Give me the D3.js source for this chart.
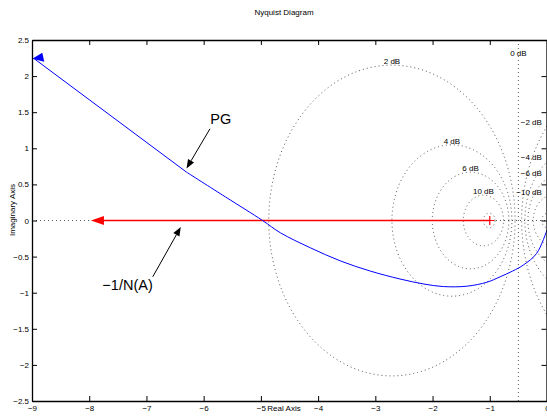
<!DOCTYPE html>
<html lang="en">
<head>
    <meta charset="UTF-8">
    <title>Nyquist Diagram</title>
    <script src="https://cdn.jsdelivr.net/npm/d3@7"></script>
    <style>
        body { margin: 0; background: #fff; }
        svg { display: block; font-family: "Liberation Sans", Arial, Helvetica, sans-serif; }
        .tick text { font-size: 8px; fill: #000; }
        .tick line, .domain { stroke: #000; }
    </style>
</head>
<body>
<svg id="chart" width="547" height="419"></svg>
<script>
    // tick labels
    const xTicks = [-9, -8, -7, -6, -5, -4, -3, -2, -1, 0];
    const yTicks = [-2.5, -2, -1.5, -1, -0.5, 0, 0.5, 1, 1.5, 2, 2.5];

    // Nyquist curve of the plant (PG)
    const nyqRe = [-8.96, -6.30, -5.62, -4.97, -4.66, -4.13, -3.61, -3.09, -2.57, -2.15, -1.81, -1.40, -1.05, -0.82, -0.60, -0.41, -0.18, 0.0];
    const nyqIm = [2.24, 0.67, 0.327, 0.0, -0.17, -0.38, -0.56, -0.70, -0.81, -0.88, -0.915, -0.91, -0.855, -0.78, -0.70, -0.615, -0.455, -0.13];

    // describing function locus -1/N(A), from -1 towards -8
    const descRe = [-1, -7.97];
    const descIm = [0, 0];

    // M-circle grid (dB)
    const gridDb = [-20, -10, -6, -4, -2, 0, 2, 4, 6, 10, 20];
    const labelDb = [0, 2, 4, 6, 10, -2, -4, -6, -10];
    const negLabelIm = [1.36, 0.88, 0.66, 0.40];

    const annotations = [
        { text: "PG", tx: -5.70, ty: 1.40, ax: -5.89, ay: 1.27, bx: -6.30, by: 0.72 },
        { text: "\u22121/N(A)", tx: -7.33, ty: -0.89, ax: -6.89, ay: -0.78, bx: -6.40, by: -0.09 }
    ];

    const svg = d3.select("#chart");
    const x = d3.scaleLinear().domain([-9, 0]).range([32, 547]);
    const y = d3.scaleLinear().domain([-2.5, 2.5]).range([401, 40]);
    const fmt = d => String(d).replace("-", "\u2212");

    svg.append("defs").append("clipPath").attr("id", "plot")
        .append("rect").attr("x", 32).attr("y", 40).attr("width", 515).attr("height", 361);

    // title and axis labels
    svg.append("text").attr("x", 284).attr("y", 15).attr("text-anchor", "middle")
        .attr("font-size", 8).text("Nyquist Diagram");
    svg.append("text").attr("x", 284).attr("y", 411).attr("text-anchor", "middle")
        .attr("font-size", 8).text("Real Axis");
    svg.append("text").attr("transform", "translate(14.5,210) rotate(-90)").attr("text-anchor", "middle")
        .attr("font-size", 8).text("Imaginary Axis");

    const grid = svg.append("g").attr("clip-path", "url(#plot)")
        .attr("fill", "none").attr("stroke", "#555").attr("stroke-width", 1).attr("stroke-dasharray", "1,3");

    // real axis line
    grid.append("line").attr("x1", x(-9)).attr("x2", x(0)).attr("y1", y(0)).attr("y2", y(0));

    const ellipse = d3.line().x(d => x(d[0])).y(d => y(d[1]));
    const angles = d3.range(0, 361, 1).map(a => a * Math.PI / 180);
    gridDb.forEach(db => {
        if (db === 0) {
            grid.append("line").attr("x1", x(-0.5)).attr("x2", x(-0.5)).attr("y1", y(2.5)).attr("y2", y(-2.5));
            return;
        }
        const m = Math.pow(10, db / 20);
        const c = -m * m / (m * m - 1), r = Math.abs(m / (m * m - 1));
        grid.append("path").attr("d", ellipse(angles.map(a => [c + r * Math.cos(a), r * Math.sin(a)])));
    });

    // grid labels
    labelDb.forEach(db => {
        let lx, ly, anchor = "middle";
        if (db === 0) { lx = x(-0.5); ly = y(2.32) + 3; }
        else if (db > 0) {
            const m = Math.pow(10, db / 20);
            lx = x(-m * m / (m * m - 1));
            ly = y(m / (m * m - 1)) - 1;
        } else {
            lx = x(-0.09); anchor = "end";
            ly = y(negLabelIm[[-2, -4, -6, -10].indexOf(db)]) + 3;
        }
        svg.append("text").attr("x", lx).attr("y", ly).attr("text-anchor", anchor)
            .attr("font-size", 8).text(fmt(db) + " dB");
    });

    // -1/N(A) locus
    svg.append("line").attr("x1", x(descRe[0])).attr("y1", y(descIm[0]))
        .attr("x2", x(descRe[1]) + 12).attr("y2", y(descIm[1]))
        .attr("stroke", "#f00").attr("stroke-width", 1.5);
    const tipX = x(descRe[1]), tipY = y(descIm[1]);
    svg.append("path").attr("fill", "#f00")
        .attr("d", `M${tipX},${tipY}L${tipX + 13},${tipY - 4.5}L${tipX + 13},${tipY + 4.5}Z`);
    svg.append("path").attr("stroke", "#f00").attr("stroke-width", 1.2)
        .attr("d", `M${x(-1) - 4.5},${y(0)}H${x(-1) + 4.5}M${x(-1)},${y(0) - 4.5}V${y(0) + 4.5}`);

    // Nyquist curve
    const pts = nyqRe.map((v, i) => [v, nyqIm[i]]);
    const g1 = svg.append("g").attr("clip-path", "url(#plot)");
    g1.append("path").attr("fill", "none").attr("stroke", "#00f").attr("stroke-width", 1)
        .attr("d", d3.line().x(d => x(d[0])).y(d => y(d[1]))(pts.slice(0, 2)));
    g1.append("path").attr("fill", "none").attr("stroke", "#00f").attr("stroke-width", 1)
        .attr("d", d3.line().curve(d3.curveCatmullRom.alpha(0.5)).x(d => x(d[0])).y(d => y(d[1]))(pts.slice(1)));
    const s0x = x(nyqRe[0]) - 2, s0y = y(nyqIm[0]);
    svg.append("path").attr("fill", "#00f")
        .attr("d", `M${s0x},${s0y}L${s0x + 10},${s0y - 6}L${s0x + 12},${s0y + 3}Z`);

    // annotations
    annotations.forEach(a => {
        svg.append("text").attr("x", x(a.tx)).attr("y", y(a.ty) + 5).attr("text-anchor", "middle")
            .attr("font-size", 14.5).text(a.text);
        const x1 = x(a.ax), y1 = y(a.ay), x2 = x(a.bx), y2 = y(a.by);
        const ang = Math.atan2(y2 - y1, x2 - x1), L = 9, W = 3.5;
        const bx = x2 - L * Math.cos(ang), by = y2 - L * Math.sin(ang);
        svg.append("line").attr("x1", x1).attr("y1", y1).attr("x2", bx).attr("y2", by)
            .attr("stroke", "#000").attr("stroke-width", 1);
        svg.append("path").attr("fill", "#000")
            .attr("d", `M${x2},${y2}L${bx - W * Math.sin(ang)},${by + W * Math.cos(ang)}L${bx + W * Math.sin(ang)},${by - W * Math.cos(ang)}Z`);
    });

    // axes (inward ticks, full box)
    svg.append("g").attr("transform", "translate(0,401)")
        .call(d3.axisBottom(x).tickValues(xTicks).tickFormat(fmt).tickSizeInner(-5).tickSizeOuter(0).tickPadding(4));
    svg.append("g").attr("transform", "translate(0,40)")
        .call(d3.axisTop(x).tickValues(xTicks).tickFormat("").tickSizeInner(-5).tickSizeOuter(0));
    svg.append("g").attr("transform", "translate(32,0)")
        .call(d3.axisLeft(y).tickValues(yTicks).tickFormat(fmt).tickSizeInner(-5).tickSizeOuter(0).tickPadding(3));
    svg.append("g").attr("transform", "translate(546.5,0)")
        .call(d3.axisRight(y).tickValues(yTicks).tickFormat("").tickSizeInner(-5).tickSizeOuter(0));
    svg.selectAll(".domain").attr("stroke-width", 1.3);
    svg.selectAll(".tick text").attr("font-family", null).attr("font-size", null);
</script>
</body>
</html>
